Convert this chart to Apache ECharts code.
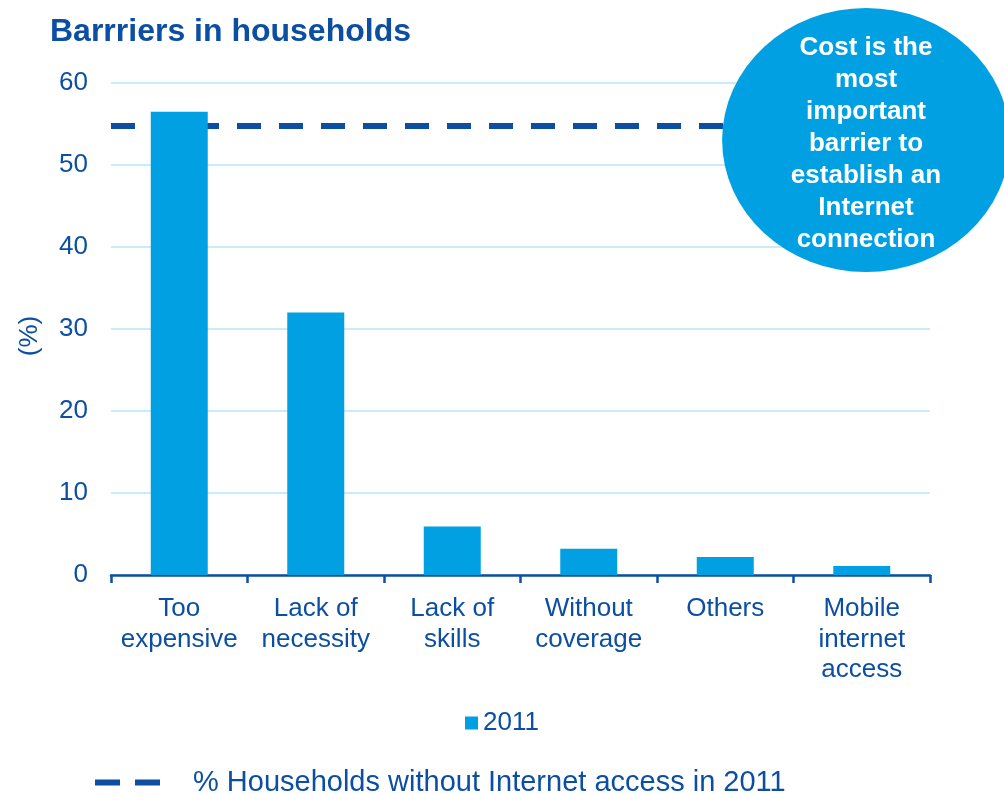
<!DOCTYPE html>
<html>
<head>
<meta charset="utf-8">
<style>
  html, body { margin: 0; padding: 0; background: #ffffff; }
  #chart { width: 1004px; height: 794px; }
</style>
<script src="https://cdn.jsdelivr.net/npm/echarts@6/dist/echarts.min.js"></script>
</head>
<body>
<div id="chart"></div>
<script>
// Reasons households give for not having an Internet connection (2011, %)
const categories = [
  'Too\nexpensive',
  'Lack of\nnecessity',
  'Lack of\nskills',
  'Without\ncoverage',
  'Others',
  'Mobile\ninternet\naccess'
];
const barrierShares2011 = [56.5, 32.0, 5.9, 3.2, 2.2, 1.1];
// Share of all households without Internet access in 2011 (%)
const householdsWithoutAccess = 54.8;
const yTicks = { min: 0, max: 60, interval: 10 };

const barSeriesName = '2011';
const lineSeriesName = '% Households without Internet access in 2011';
const calloutText = 'Cost is the\nmost\nimportant\nbarrier to\nestablish an\nInternet\nconnection';

const DARK = '#0c4fa2';
const BAR = '#00a0e2';
const GRID = '#b9e6f8';
const FONT = '"Liberation Sans", Arial, sans-serif';

const chart = echarts.init(document.getElementById('chart'), null, { renderer: 'canvas' });

chart.setOption({
  backgroundColor: '#ffffff',
  animation: false,
  title: {
    text: 'Barrriers in households',
    left: 50,
    top: 16,
    padding: 0,
    textStyle: { color: DARK, fontFamily: FONT, fontSize: 32, fontWeight: 'bold' }
  },
  grid: { left: 111, right: 74, top: 83, bottom: 219, containLabel: false },
  legend: [
    {
      data: [barSeriesName],
      left: 465,
      top: 710,
      padding: 0,
      itemWidth: 13,
      itemHeight: 13,
      icon: 'rect',
      textStyle: { color: DARK, fontFamily: FONT, fontSize: 26, padding: [0, 0, 0, 0] },
      selectedMode: false
    },
    {
      data: [lineSeriesName],
      left: 95,
      top: 768,
      padding: 0,
      itemWidth: 65,
      itemHeight: 6,
      icon: 'path://M0,0h25v6h-25z M40,0h25v6h-25z',
      textStyle: { color: DARK, fontFamily: FONT, fontSize: 29, padding: [0, 0, 0, 28] },
      selectedMode: false
    }
  ],
  xAxis: {
    type: 'category',
    data: categories,
    axisLine: { show: true, lineStyle: { color: DARK, width: 2.5 } },
    axisTick: { show: true, length: 8, alignWithLabel: false, lineStyle: { color: DARK, width: 2.5 } },
    axisLabel: {
      color: DARK,
      fontFamily: FONT,
      fontSize: 26,
      lineHeight: 30.5,
      margin: 19,
      interval: 0
    },
    splitLine: { show: false }
  },
  yAxis: {
    type: 'value',
    min: yTicks.min,
    max: yTicks.max,
    interval: yTicks.interval,
    name: '(%)',
    nameLocation: 'middle',
    nameGap: 68,
    nameRotate: 90,
    nameTextStyle: { color: DARK, fontFamily: FONT, fontSize: 26, padding: [0, 14, 0, 0] },
    axisLine: { show: false },
    axisTick: { show: false },
    axisLabel: { color: DARK, fontFamily: FONT, fontSize: 26, margin: 23 },
    splitLine: { show: true, lineStyle: { color: GRID, width: 1.5 } }
  },
  series: [
    {
      name: lineSeriesName,
      type: 'line',
      data: [],
      z: 1,
      color: DARK,
      itemStyle: { color: DARK },
      lineStyle: { color: DARK, width: 6, type: [24, 18] },
      markLine: {
        silent: true,
        z: 1,
        symbol: 'none',
        label: { show: false },
        lineStyle: { color: DARK, width: 6, type: [24, 18] },
        data: [{ yAxis: householdsWithoutAccess }]
      }
    },
    {
      name: barSeriesName,
      type: 'bar',
      data: barrierShares2011,
      z: 2,
      barWidth: 57,
      itemStyle: { color: BAR }
    }
  ],
  graphic: [
    {
      type: 'circle',
      x: 866,
      y: 140,
      scaleX: 1.09,
      shape: { cx: 0, cy: 0, r: 132 },
      style: { fill: BAR },
      z: 100,
      silent: true
    },
    {
      type: 'text',
      x: 866,
      y: 144,
      z: 101,
      silent: true,
      style: {
        text: calloutText,
        fill: '#ffffff',
        font: 'bold 26px ' + FONT,
        lineHeight: 32,
        align: 'center',
        verticalAlign: 'middle'
      }
    }
  ]
});
</script>
</body>
</html>
